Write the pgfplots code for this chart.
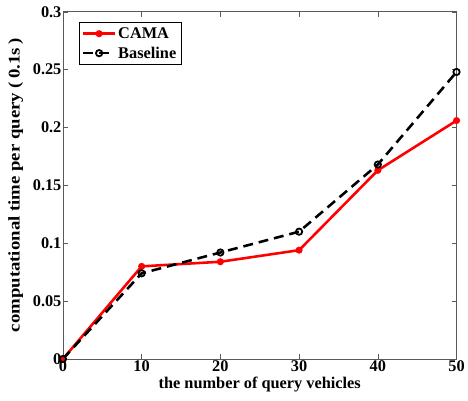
\documentclass[border={5pt 5pt 0pt 3pt}]{standalone}
\usepackage{pgfplots}
\pgfplotsset{compat=1.18}
\usepackage{fontspec}
\setmainfont{Liberation Serif}
\begin{document}
\begin{tikzpicture}
\begin{axis}[
  scale only axis,
  width=398pt, height=351pt,
  xmin=0, xmax=50, ymin=0, ymax=0.3,
  xtick={0,10,20,30,40,50},
  ytick={0,0.05,0.1,0.15,0.2,0.25,0.3},
  yticklabels={0,0.05,0.1,0.15,0.2,0.25,0.3},
  tick align=inside,
  major tick length=5pt,
  axis line style={gray!70!black, line width=0.8pt},
  tick style={gray!70!black, line width=0.6pt},
  /pgf/number format/assume math mode=true,
  tick label style={font=\fontsize{16.5}{18}\selectfont\bfseries},
  xticklabel style={yshift=2pt},
  yticklabel style={xshift=2pt},
  label style={font=\fontsize{16.5}{18}\selectfont\bfseries},
  xlabel={the number of query vehicles},
  ylabel={\scalebox{1.15}[1]{computational time per query (\,0.1s\,)}},
  xlabel style={yshift=1pt},
  ylabel style={yshift=3pt},
  legend style={at={(0.04,0.97)}, anchor=north west, draw=black, line width=0.8pt,
    font=\fontsize{16.5}{18}\selectfont\bfseries, inner sep=3pt, row sep=3pt},
  legend image code/.code={\draw[#1] (0pt,0pt) -- (16pt,0pt) -- (32pt,0pt);
    \draw[#1, mark repeat=2, mark phase=2] plot coordinates {(0pt,0pt) (16pt,0pt) (32pt,0pt)};},
  legend cell align=left,
  clip=false,
]
\addplot[red, line width=2.6pt, mark=*, mark size=2.2pt, mark options={solid, fill=red}]
  coordinates {(0,0) (10,0.080) (20,0.084) (30,0.094) (40,0.163) (50,0.206)};
\addlegendentry{CAMA}
\addplot[black, line width=2.6pt, dash pattern=on 10pt off 6pt, mark=o, mark size=3.2pt, mark options={solid, line width=1.8pt}]
  coordinates {(0,0) (10,0.074) (20,0.092) (30,0.110) (40,0.168) (50,0.248)};
\addlegendentry{Baseline}
\end{axis}
\end{tikzpicture}
\end{document}
